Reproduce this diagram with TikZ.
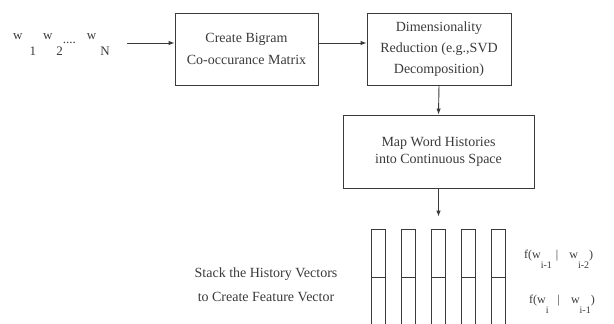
\documentclass[tikz,border=0pt]{standalone}
\usepackage{fontspec}
\setmainfont{Liberation Serif}
\usetikzlibrary{arrows.meta}
\definecolor{ink}{HTML}{3A3A3A}
\newcommand\lowsub[2]{\raisebox{-#1}{#2}}
\begin{document}
\begin{tikzpicture}[x=1pt,y=-1pt,
  box/.style={draw=ink, line width=0.9pt, inner sep=0pt, align=center, text=ink,
              font=\fontsize{14}{22}\selectfont},
  arr/.style={draw=ink, line width=0.9pt, -{Latex[length=6pt,width=4.5pt]}},
  barbox/.style={draw=ink, line width=0.8pt, minimum width=14pt, inner sep=0pt},
  lbl/.style={text=ink, font=\fontsize{14}{24}\selectfont, align=center},
  flbl/.style={text=ink, font=\fontsize{12}{14}\selectfont, anchor=base west, inner sep=0pt}]
\useasboundingbox (0,0) rectangle (614,324);
\clip (0,0) rectangle (614,324);

\node[box, minimum width=143pt, minimum height=72pt] (b1) at (246.5,49) {Create Bigram\\Co-occurance Matrix};
\node[box, font=\fontsize{14}{21}\selectfont, minimum width=144pt, minimum height=72pt] (b2) at (439,49) {Dimensionality\\Reduction (e.g.,SVD\\Decomposition)};
\node[box, font=\fontsize{14}{17}\selectfont, minimum width=191pt, minimum height=73pt] (b3) at (438.5,151.5) {Map Word Histories\\into Continuous Space};

\node[flbl, font=\fontsize{13}{14}\selectfont] (inp) at (13,39)
  {w\hspace{7pt}\lowsub{17pt}{1}\hspace{7pt}w\hspace{4pt}\lowsub{17pt}{2}\lowsub{4pt}{....}\hspace{11pt}w\hspace{4pt}\lowsub{17pt}{N}};
\coordinate (a0) at (127,43);
\draw[arr] (a0) -- (a0 -| b1.west);
\draw[arr] (b1.east |- a0) -- (b2.west |- a0);
\draw[arr] (b2.south) -- (b3.north);

\foreach \i in {1,...,5} {
  \node[barbox, minimum height=48pt] (t\i) at ({348.5+30*\i},253) {};
  \node[barbox, minimum height=50pt] (u\i) at ({348.5+30*\i},302) {};
}
\draw[arr, shorten >=12pt] (b3.south) -- (t3.north);

\node[lbl] (stk) at (266,285) {Stack the History Vectors\\to Create Feature Vector};

\node[flbl] (f1) at (524,258)
  {f(w\lowsub{10pt}{\fontsize{10}{11}\selectfont i-1}\hspace{4pt}|\hspace{11pt}w\lowsub{10pt}{\fontsize{10}{11}\selectfont i-2})};
\node[flbl] (f2) at (529,303)
  {f(w\lowsub{10pt}{\fontsize{10}{11}\selectfont i}\hspace{9pt}|\hspace{11pt}w\lowsub{10pt}{\fontsize{10}{11}\selectfont i-1})};
\end{tikzpicture}
\end{document}
